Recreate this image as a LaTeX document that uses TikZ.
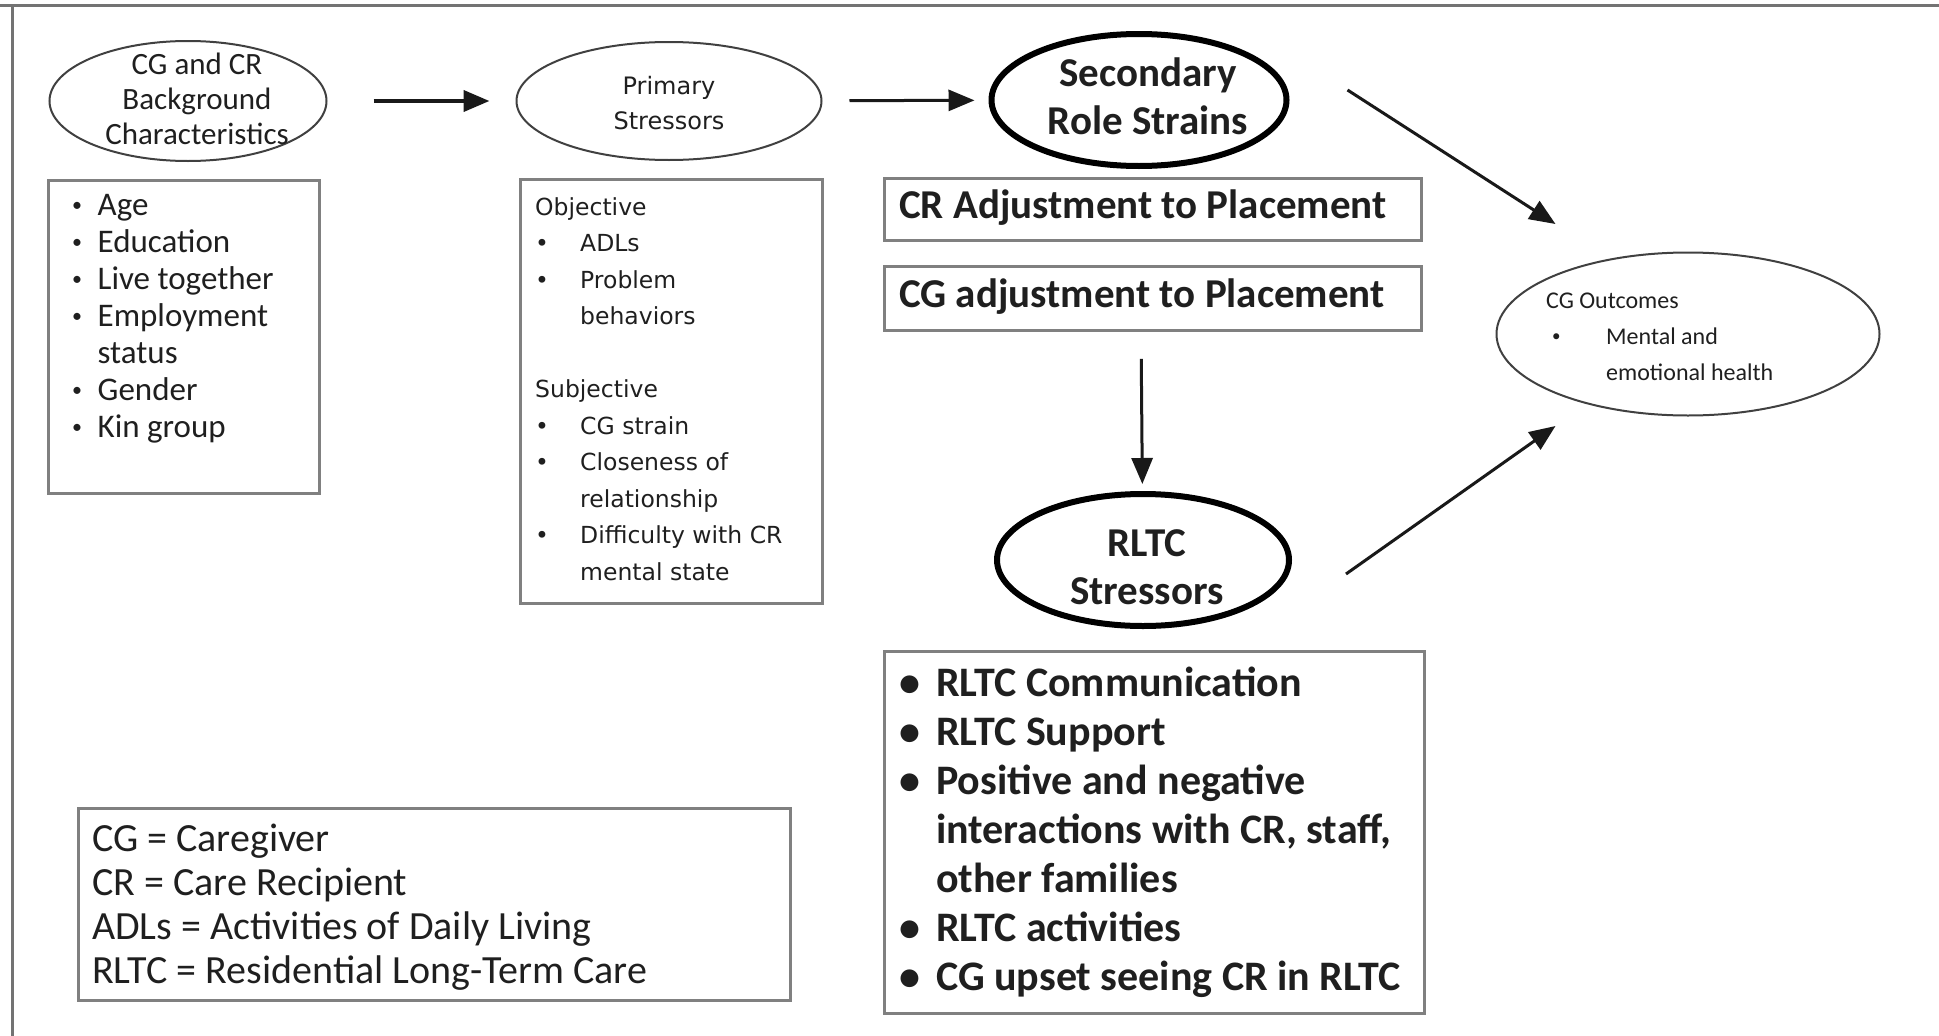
\documentclass[tikz,border=0pt]{standalone}
\usepackage{fontspec}
\setmainfont{Carlito}
\newfontfamily\verd{DejaVu Sans}
\usetikzlibrary{shapes.geometric,arrows.meta}
\newcommand{\smallbul}{\raisebox{4pt}{\fontsize{20}{20}\selectfont •}}
\begin{document}
\begin{tikzpicture}[x=1pt,y=-1pt,
  thinell/.style={ellipse, draw=black!75, line width=2pt, inner sep=0pt},
  thickell/.style={ellipse, draw=black, line width=6pt, inner sep=0pt},
  greybox/.style={rectangle, draw=black!50, line width=2.5pt, inner sep=0pt, anchor=north west},
  txt/.style={inner sep=0pt, text=black!88},
  arr/.style={line width=3pt, draw=black!90, -{Triangle[length=26pt,width=21pt]}},
  frame/.style={draw=black!55, line width=3pt},
]
\useasboundingbox (0,0) rectangle (1939,1036);
% frame (top and left edges)
\draw[frame] (0,5) -- (1939,5);
\draw[frame] (12,5) -- (12,1036);

% ---- background characteristics
\node[thinell, minimum width=277pt, minimum height=120pt] (bg) at (188,101) {};
\node[txt, align=center, font=\fontsize{31}{35}\selectfont] (bgt) at (197,99) {CG and CR\\Background\\Characteristics};
\node[greybox, minimum width=271pt, minimum height=313pt] (bgbox) at (47,179) {};
\node[txt, anchor=base west, font=\fontsize{33}{37}\selectfont] (bglist) at (72,215)
 {\begin{tabular}[t]{@{}p{25.5pt}@{}l@{}}
  \smallbul&Age\\
  \smallbul&Education\\
  \smallbul&Live together\\
  \smallbul&Employment\\
   &status\\
  \smallbul&Gender\\
  \smallbul&Kin group
 \end{tabular}};

% ---- primary stressors
\node[thinell, minimum width=305pt, minimum height=118pt] (ps) at (669,101) {};
\node[txt, align=center, font=\verd\fontsize{24}{35}\selectfont] (pst) at (669,103) {Primary\\Stressors};
\node[greybox, minimum width=302pt, minimum height=424pt] (psbox) at (519,178) {};
\node[txt, anchor=base west, font=\verd\fontsize{23.5}{36.5}\selectfont] (pslist) at (535,215)
 {\begin{tabular}[t]{@{}p{45pt}@{}l@{}}
  \multicolumn{2}{@{}l@{}}{Objective}\\
  •&ADLs\\
  •&Problem\\
   &behaviors\\
   &\\
  \multicolumn{2}{@{}l@{}}{Subjective}\\
  •&CG strain\\
  •&Closeness of\\
   &relationship\\
  •&Difficulty with CR\\
   &mental state
 \end{tabular}};

% ---- secondary role strains
\node[thickell, minimum width=295pt, minimum height=132pt] (sec) at (1139,100) {};
\node[txt, align=center, font=\bfseries\fontsize{41}{48}\selectfont] (sect) at (1148,96) {Secondary\\Role Strains};
\node[greybox, minimum width=537pt, minimum height=62pt] (crbox) at (883,177) {};
\node[txt, anchor=west, font=\bfseries\fontsize{41}{46}\selectfont] (crt) at (899,208) {CR Adjustment to Placement};
\node[greybox, minimum width=537pt, minimum height=64pt] (cgbox) at (883,265) {};
\node[txt, anchor=west, font=\bfseries\fontsize{41}{46}\selectfont] (cgt) at (899,297) {CG adjustment to Placement};

% ---- RLTC stressors
\node[thickell, minimum width=292pt, minimum height=132pt] (rltc) at (1143,560) {};
\node[txt, align=center, font=\bfseries\fontsize{41}{48}\selectfont] (rltct) at (1147,567) {RLTC\\Stressors};
\node[greybox, minimum width=540pt, minimum height=362pt] (rltcbox) at (883,650) {};
\node[txt, anchor=base west, font=\bfseries\fontsize{42}{49}\selectfont] (rltclist) at (899,696)
 {\begin{tabular}[t]{@{}p{37pt}@{}l@{}}
  •&RLTC Communication\\
  •&RLTC Support\\
  •&Positive and negative\\
   &interactions with CR, staff,\\
   &other families\\
  •&RLTC activities\\
  •&CG upset seeing CR in RLTC
 \end{tabular}};

% ---- CG outcomes
\node[thinell, minimum width=383pt, minimum height=163pt] (out) at (1688,334) {};
\node[txt, anchor=base west, font=\fontsize{24}{36}\selectfont] (outt) at (1546,308)
 {\begin{tabular}[t]{@{}p{60pt}@{}l@{}}
  \multicolumn{2}{@{}l@{}}{CG Outcomes}\\
  \hspace{6pt}\raisebox{3pt}{\fontsize{17}{17}\selectfont •}&Mental and\\
   &emotional health
 \end{tabular}};

% ---- legend
\node[greybox, minimum width=712pt, minimum height=192pt] (legbox) at (77,807) {};
\node[txt, anchor=base west, font=\fontsize{40}{44}\selectfont] (legt) at (92,851)
 {\begin{tabular}[t]{@{}l@{}}
  CG = Caregiver\\
  CR = Care Recipient\\
  ADLs = Activities of Daily Living\\
  RLTC = Residential Long-Term Care
 \end{tabular}};

% ---- connectors
\draw[arr, line width=4pt, shorten <=46pt, shorten >=26pt] (bg) -- (ps);
\draw[arr, shorten <=27pt, shorten >=14pt] (ps) -- (sec);
\draw[arr, shorten <=190pt, shorten >=7pt] (sec) -- (rltc);
\draw[arr] ([shift={(58,-10)}]sec.east) -- ([shift={(60,-110)}]out.west);
\draw[arr] ([shift={(54,14)}]rltc.east) -- ([shift={(60,92)}]out.west);
\end{tikzpicture}
\end{document}
